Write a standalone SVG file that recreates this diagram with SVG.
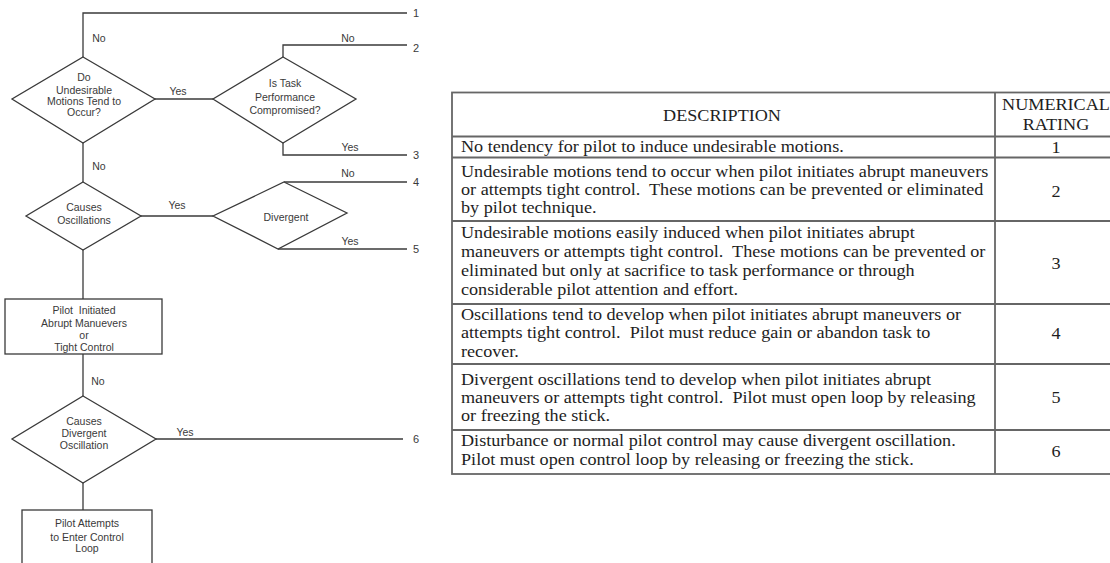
<svg xmlns="http://www.w3.org/2000/svg" width="1110" height="563" viewBox="0 0 1110 563">
<style>
.fl{fill:none;stroke:#3a3a3a;stroke-width:1.3}
.nd{fill:#fff;stroke:#3a3a3a;stroke-width:1.3}
.ft{font-family:"Liberation Sans",Arial,sans-serif;font-size:10.5px;fill:#3a3a3a;text-anchor:middle;white-space:pre}
.num{font-family:"Liberation Sans",Arial,sans-serif;font-size:11px;fill:#3a3a3a;text-anchor:middle}
.tl{fill:none;stroke:#666;stroke-width:1.8}
.tt{font-family:"Liberation Serif","Times New Roman",serif;font-size:16.5px;fill:#1e1e1e;white-space:pre}
.tc{text-anchor:middle}
</style>
<rect width="1110" height="563" fill="#fff"/>
<g id="connectors">
<polyline class="fl" points="83,57 83,13 407,13"/>
<line class="fl" x1="155" y1="99" x2="213" y2="99"/>
<polyline class="fl" points="283,57 283,45 407,45"/>
<polyline class="fl" points="283,143 283,155 407,155"/>
<line class="fl" x1="83" y1="143" x2="83" y2="182"/>
<line class="fl" x1="141" y1="216" x2="213" y2="216"/>
<line class="fl" x1="284" y1="182" x2="407" y2="182"/>
<line class="fl" x1="278" y1="249" x2="407" y2="249"/>
<line class="fl" x1="83" y1="250" x2="83" y2="299"/>
<line class="fl" x1="83" y1="354" x2="83" y2="396"/>
<line class="fl" x1="156" y1="439" x2="403" y2="439"/>
<line class="fl" x1="83" y1="483" x2="83" y2="510"/>
<text class="ft" x="99" y="42">No</text>
<text class="ft" x="178" y="95">Yes</text>
<text class="ft" x="348" y="42">No</text>
<text class="ft" x="350" y="151">Yes</text>
<text class="ft" x="99" y="170">No</text>
<text class="ft" x="348" y="177">No</text>
<text class="ft" x="177" y="209">Yes</text>
<text class="ft" x="350" y="245">Yes</text>
<text class="ft" x="98" y="385">No</text>
<text class="ft" x="185" y="436">Yes</text>
<text class="num" x="416" y="17">1</text>
<text class="num" x="416" y="52">2</text>
<text class="num" x="416" y="159">3</text>
<text class="num" x="416" y="186">4</text>
<text class="num" x="416" y="253">5</text>
<text class="num" x="416" y="443">6</text>
</g>
<g id="d1">
<polygon class="nd" points="83,57 155,99 83,143 12,99"/>
<text class="ft" x="84" y="81">Do</text>
<text class="ft" x="84" y="94">Undesirable</text>
<text class="ft" x="84" y="105">Motions Tend to</text>
<text class="ft" x="84" y="116">Occur?</text>
</g>
<g id="d2">
<polygon class="nd" points="283,57 356,99 283,143 213,99"/>
<text class="ft" x="285" y="87">Is Task</text>
<text class="ft" x="285" y="101">Performance</text>
<text class="ft" x="285" y="114">Compromised?</text>
</g>
<g id="d3">
<polygon class="nd" points="83,182 141,216 83,250 26,216"/>
<text class="ft" x="84" y="211">Causes</text>
<text class="ft" x="84" y="224">Oscillations</text>
</g>
<g id="d4">
<polygon class="nd" points="284,182 347,213 278,249 213,216"/>
<text class="ft" x="286" y="221">Divergent</text>
</g>
<g id="b1">
<rect class="nd" x="5" y="299" width="157" height="55"/>
<text class="ft" x="84" y="314">Pilot  Initiated</text>
<text class="ft" x="84" y="327">Abrupt Manuevers</text>
<text class="ft" x="84" y="339">or</text>
<text class="ft" x="84" y="351">Tight Control</text>
</g>
<g id="d5">
<polygon class="nd" points="83,396 156,439 83,483 12,439"/>
<text class="ft" x="84" y="425">Causes</text>
<text class="ft" x="84" y="437">Divergent</text>
<text class="ft" x="84" y="449">Oscillation</text>
</g>
<g id="b2">
<rect class="nd" x="22" y="510" width="130" height="60"/>
<text class="ft" x="87" y="527">Pilot Attempts</text>
<text class="ft" x="87" y="541">to Enter Control</text>
<text class="ft" x="87" y="552">Loop</text>
</g>
<g id="table">
<rect class="tl" x="452" y="92.5" width="662" height="381.5"/>
<line class="tl" x1="995" y1="92.5" x2="995" y2="474"/>
<line class="tl" x1="452" y1="136.5" x2="1112" y2="136.5"/>
<line class="tl" x1="452" y1="157.5" x2="1112" y2="157.5"/>
<line class="tl" x1="452" y1="221" x2="1112" y2="221"/>
<line class="tl" x1="452" y1="304" x2="1112" y2="304"/>
<line class="tl" x1="452" y1="364" x2="1112" y2="364"/>
<line class="tl" x1="452" y1="430" x2="1112" y2="430"/>
<g transform="scale(1.1,1)">
<text class="tt tc" x="656.4" y="121">DESCRIPTION</text>
<text class="tt tc" x="960" y="110">NUMERICAL</text>
<text class="tt tc" x="960" y="130">RATING</text>
<text class="tt" x="419.1" y="152">No tendency for pilot to induce undesirable motions.</text>
<text class="tt tc" x="960" y="153">1</text>
<text class="tt" x="419.1" y="177">Undesirable motions tend to occur when pilot initiates abrupt maneuvers</text>
<text class="tt" x="419.1" y="195">or attempts tight control.  These motions can be prevented or eliminated</text>
<text class="tt" x="419.1" y="213">by pilot technique.</text>
<text class="tt tc" x="960" y="197">2</text>
<text class="tt" x="419.1" y="238">Undesirable motions easily induced when pilot initiates abrupt</text>
<text class="tt" x="419.1" y="257">maneuvers or attempts tight control.  These motions can be prevented or</text>
<text class="tt" x="419.1" y="276">eliminated but only at sacrifice to task performance or through</text>
<text class="tt" x="419.1" y="295">considerable pilot attention and effort.</text>
<text class="tt tc" x="960" y="269">3</text>
<text class="tt" x="419.1" y="320">Oscillations tend to develop when pilot initiates abrupt maneuvers or</text>
<text class="tt" x="419.1" y="338">attempts tight control.  Pilot must reduce gain or abandon task to</text>
<text class="tt" x="419.1" y="357">recover.</text>
<text class="tt tc" x="960" y="339">4</text>
<text class="tt" x="419.1" y="385">Divergent oscillations tend to develop when pilot initiates abrupt</text>
<text class="tt" x="419.1" y="403">maneuvers or attempts tight control.  Pilot must open loop by releasing</text>
<text class="tt" x="419.1" y="421">or freezing the stick.</text>
<text class="tt tc" x="960" y="403">5</text>
<text class="tt" x="419.1" y="446">Disturbance or normal pilot control may cause divergent oscillation.</text>
<text class="tt" x="419.1" y="465">Pilot must open control loop by releasing or freezing the stick.</text>
<text class="tt tc" x="960" y="457">6</text>
</g>
</g>
</svg>
